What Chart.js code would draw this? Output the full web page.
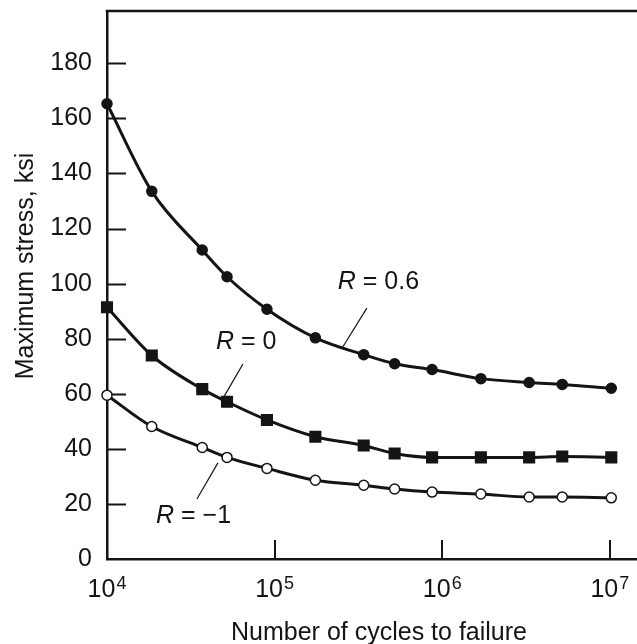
<!DOCTYPE html>
<html>
<head>
<meta charset="utf-8">
<title>Maximum stress vs cycles to failure</title>
<script src="https://cdn.jsdelivr.net/npm/chart.js@4.4.1/dist/chart.umd.min.js"></script>
<style>
  html, body { margin: 0; padding: 0; background: #fff; overflow: hidden; }
  canvas { display: block; }
</style>
</head>
<body>
<canvas id="sn-chart" width="660" height="644"></canvas>
<script>
// cycles to failure (shared by the three stress ratios)
var cycles = [1e4, 1.85e4, 3.7e4, 5.2e4, 9e4, 1.75e5, 3.4e5, 5.2e5, 8.7e5, 1.7e6, 3.3e6, 5.2e6, 1.02e7];
// maximum stress, ksi
var stressR06 = [165.3, 133.5, 112.2, 102.5, 90.7, 80.3, 74.2, 70.9, 68.8, 65.5, 64.1, 63.4, 62.0];
var stressR0 = [91.4, 73.9, 61.7, 57.1, 50.5, 44.4, 41.2, 38.3, 36.9, 36.9, 36.9, 37.2, 36.9];
var stressRm1 = [59.5, 48.1, 40.5, 36.9, 32.9, 28.6, 26.8, 25.4, 24.3, 23.6, 22.5, 22.5, 22.2];
var ratioNames = ['0.6', '0', '\u22121'];
var decades = [4, 5, 6, 7];
var stressTicks = [20, 40, 60, 80, 100, 120, 140, 160, 180];

var ink = '#141414';
var font = '"Liberation Sans", Arial, Helvetica, sans-serif';
Chart.defaults.font.family = font;
Chart.defaults.color = ink;

function pts(ys) {
  return cycles.map(function (c, i) { return { x: c, y: ys[i] }; });
}

// where each curve label sits, with its leader line (in axis units)
var notes = [
  { at: [2.38e5, 98.0], from: [3.55e5, 91.1], to: [2.55e5, 77.0] },
  { at: [4.47e4, 76.3], from: [6.47e4, 70.8], to: [4.85e4, 57.7] },
  { at: [1.96e4, 13.1], from: [4.59e4, 34.9], to: [3.44e4, 21.8] }
];

// keep the plot box fixed: no extra room for half tick labels
function noEdgePadding(s) {
  s.paddingTop = 0;
  s.paddingBottom = 0;
  s.paddingLeft = 0;
  s.paddingRight = 0;
}

var decor = {
  id: 'decor',
  beforeDatasetsDraw: function (chart) {
    var ctx = chart.ctx, a = chart.chartArea;
    var xs = chart.scales.x, ys = chart.scales.y;
    ctx.save();
    ctx.strokeStyle = ink;
    ctx.lineWidth = 2.5;
    ctx.beginPath();
    ctx.moveTo(a.left - 1.25, a.top);
    ctx.lineTo(a.right, a.top);
    ctx.stroke();
    // short ticks pointing into the plot
    ctx.lineWidth = 2;
    ctx.beginPath();
    stressTicks.forEach(function (v) {
      var y = Math.round(ys.getPixelForValue(v)) + 0.5;
      ctx.moveTo(a.left, y);
      ctx.lineTo(a.left + 19, y);
    });
    decades.slice(1).forEach(function (d) {
      var x = Math.round(xs.getPixelForValue(Math.pow(10, d)));
      ctx.moveTo(x, a.bottom);
      ctx.lineTo(x, a.bottom - 19);
    });
    ctx.stroke();
    ctx.restore();
  },
  afterDraw: function (chart) {
    var ctx = chart.ctx, a = chart.chartArea;
    var xs = chart.scales.x, ys = chart.scales.y;
    ctx.save();
    ctx.fillStyle = ink;
    ctx.strokeStyle = ink;
    ctx.textBaseline = 'alphabetic';

    // decade labels 10^n
    decades.forEach(function (d) {
      var x = xs.getPixelForValue(Math.pow(10, d));
      ctx.font = '25px ' + font;
      var wBase = ctx.measureText('10').width;
      ctx.font = '18px ' + font;
      var wExp = ctx.measureText(String(d)).width;
      var x0 = x - (wBase + wExp + 1) / 2;
      ctx.font = '25px ' + font;
      ctx.fillText('10', x0, a.bottom + 38);
      ctx.font = '18px ' + font;
      ctx.fillText(String(d), x0 + wBase + 1, a.bottom + 30);
    });

    // y axis title
    ctx.save();
    ctx.translate(26, (a.top + a.bottom) / 2 - 19);
    ctx.rotate(-Math.PI / 2);
    ctx.font = '25px ' + font;
    ctx.textAlign = 'center';
    ctx.textBaseline = 'middle';
    ctx.fillText('Maximum stress, ksi', 0, 0);
    ctx.restore();

    // curve labels with leader lines
    ctx.lineWidth = 1.2;
    notes.forEach(function (n, i) {
      var tx = xs.getPixelForValue(n.at[0]), ty = ys.getPixelForValue(n.at[1]);
      ctx.font = 'italic 25px ' + font;
      ctx.fillText('R', tx, ty);
      var w = ctx.measureText('R').width;
      ctx.font = '25px ' + font;
      ctx.fillText(' = ' + ratioNames[i], tx + w, ty);
      ctx.beginPath();
      ctx.moveTo(xs.getPixelForValue(n.from[0]), ys.getPixelForValue(n.from[1]));
      ctx.lineTo(xs.getPixelForValue(n.to[0]), ys.getPixelForValue(n.to[1]));
      ctx.stroke();
    });
    ctx.restore();
  }
};

function series(ys, style, radius, fill) {
  return {
    data: pts(ys),
    borderColor: ink,
    borderWidth: 3,
    cubicInterpolationMode: 'monotone',
    pointStyle: style,
    pointRadius: radius,
    pointHoverRadius: radius,
    pointBackgroundColor: fill,
    pointBorderColor: ink,
    pointBorderWidth: 1.5,
    clip: false
  };
}

new Chart(document.getElementById('sn-chart'), {
  type: 'line',
  data: {
    datasets: [
      series(stressR06, 'circle', 5, ink),
      series(stressR0, 'rect', 7.5, ink),
      series(stressRm1, 'circle', 5, '#fff')
    ]
  },
  options: {
    responsive: false,
    animation: false,
    layout: { padding: { top: 11, right: 9, left: 0, bottom: 0 } },
    plugins: { legend: { display: false }, tooltip: { enabled: false } },
    scales: {
      x: {
        type: 'logarithmic',
        min: 1e4,
        max: 1.76e7,
        grid: { display: false },
        border: { display: true, color: ink, width: 2.5 },
        ticks: { display: false },
        title: {
          display: true,
          text: 'Number of cycles to failure',
          font: { size: 25, lineHeight: 1 },
          padding: { top: 0, bottom: -2 }
        },
        afterFit: function (s) { s.height = 85; noEdgePadding(s); }
      },
      y: {
        min: 0,
        max: 199,
        grid: { display: false },
        border: { display: true, color: ink, width: 2.5 },
        ticks: { stepSize: 20, includeBounds: false, padding: 7, font: { size: 25 } },
        afterFit: function (s) { s.width = 107; noEdgePadding(s); }
      }
    }
  },
  plugins: [decor]
});
</script>
</body>
</html>
